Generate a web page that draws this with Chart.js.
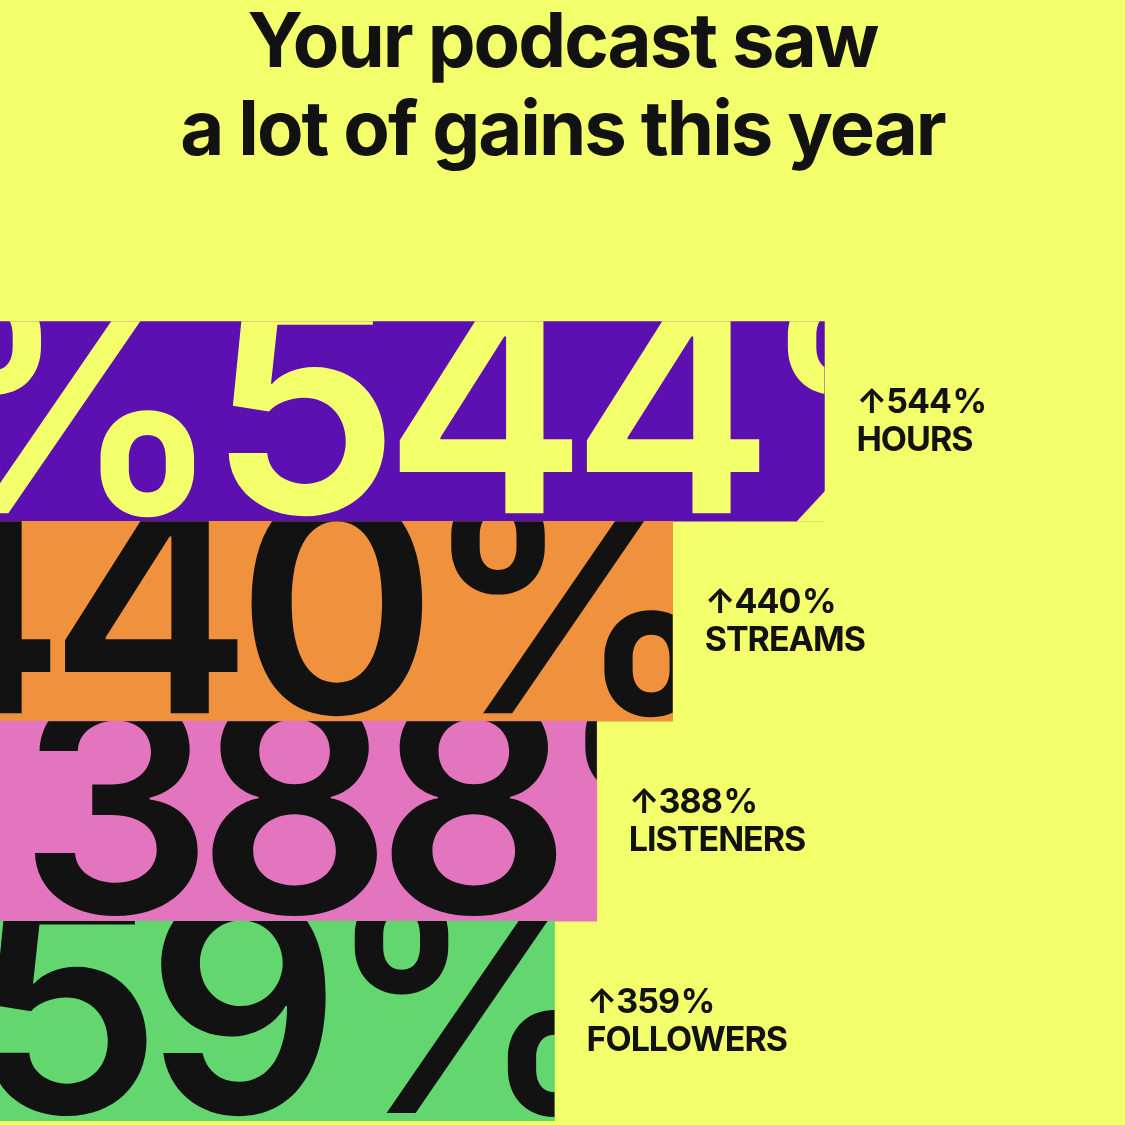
<!DOCTYPE html>
<html>
<head>
<meta charset="utf-8">
<title>Podcast gains</title>
<script src="https://cdn.jsdelivr.net/npm/chart.js@4.4.1/dist/chart.umd.min.js"></script>
<style>
  html, body { margin: 0; padding: 0; background: #f3ff6b; }
  #wrap { width: 1125px; height: 1125px; }
</style>
</head>
<body>
<div id="wrap"><canvas id="gainsChart" width="1125" height="1125"></canvas></div>
<script>
// data
var metrics = ["HOURS", "STREAMS", "LISTENERS", "FOLLOWERS"];
var gains = [544, 440, 388, 359];
var titleLines = ["Your podcast saw", "a lot of gains this year"];

// look
var bgColor = '#f3ff6b';
var inkColor = '#121212';
var barColors = ['#5d10b1', '#f0913e', '#e275bd', '#63d66f'];
var bigTextColors = [bgColor, inkColor, inkColor, inkColor];
var bigTextStart = [208, -138, 19, -208]; // x where the big number starts inside the bar
var bigTextRepeat = [true, false, false, false];
var cutCorner = [28, 0, 0, 0];

// tighter title tracking
var tracking = {
  id: 'tracking',
  beforeDraw: function(chart) {
    chart.ctx.letterSpacing = '-2px';
  }
};

// huge numbers clipped inside each bar
var bigNumbers = {
  id: 'bigNumbers',
  afterDatasetsDraw: function(chart) {
    var ctx = chart.ctx;
    var meta = chart.getDatasetMeta(0);
    meta.data.forEach(function(bar, i) {
      var p = bar.getProps(['x', 'y', 'base', 'height'], true);
      var top = p.y - p.height / 2;
      var bottom = p.y + p.height / 2;
      ctx.save();
      ctx.beginPath();
      ctx.rect(p.base, top, p.x - p.base, p.height);
      ctx.clip();
      ctx.font = '600 305px Inter';
      ctx.letterSpacing = '-16px';
      ctx.fillStyle = bigTextColors[i];
      ctx.textBaseline = 'alphabetic';
      ctx.textAlign = 'left';
      var txt = gains[i] + '%';
      var w = ctx.measureText(txt).width;
      var n = bigTextRepeat[i] ? 1 : 0;
      for (var k = -n; k <= n; k++) {
        ctx.fillText(txt, bigTextStart[i] + k * w, bottom - 8);
      }
      ctx.restore();

      if (cutCorner[i] > 0) {
        var c = cutCorner[i];
        ctx.save();
        ctx.fillStyle = bgColor;
        ctx.beginPath();
        ctx.moveTo(p.x + 1, bottom - c * 1.1);
        ctx.lineTo(p.x + 1, bottom + 0.5);
        ctx.lineTo(p.x - c, bottom + 0.5);
        ctx.closePath();
        ctx.fill();
        ctx.restore();
      }
    });
  }
};

// the "↑544% HOURS" labels to the right of the bars
var sideLabels = {
  id: 'sideLabels',
  afterDatasetsDraw: function(chart) {
    var ctx = chart.ctx;
    var meta = chart.getDatasetMeta(0);
    meta.data.forEach(function(bar, i) {
      var p = bar.getProps(['x', 'y'], true);
      var x0 = p.x + 32;
      ctx.save();
      ctx.fillStyle = inkColor;
      ctx.textAlign = 'left';
      ctx.textBaseline = 'middle';
      ctx.font = '700 34px Inter';
      ctx.letterSpacing = '-1px';
      ctx.fillText('\u2191' + gains[i] + '\u200a%', x0, p.y - 18);
      ctx.fillText(metrics[i], x0, p.y + 20);
      ctx.restore();
    });
  }
};

var ctx = document.getElementById('gainsChart').getContext('2d');
var gainsChart = new Chart(ctx, {
  type: 'bar',
  data: {
    labels: metrics,
    datasets: [{
      data: gains,
      base: -21,
      backgroundColor: barColors,
      borderWidth: 0,
      barPercentage: 1,
      categoryPercentage: 1
    }]
  },
  options: {
    indexAxis: 'y',
    responsive: false,
    animation: false,
    layout: { padding: { top: 0, right: 0, bottom: 4, left: 0 } },
    scales: {
      x: { display: false, min: -21, max: 750 },
      y: { display: false }
    },
    plugins: {
      legend: { display: false },
      tooltip: { enabled: false },
      title: {
        display: true,
        text: titleLines,
        color: inkColor,
        font: { family: 'Inter', size: 76, weight: '700', lineHeight: 1.16 },
        padding: { top: 0, bottom: 145 }
      }
    }
  },
  plugins: [tracking, bigNumbers, sideLabels]
});
</script>
</body>
</html>
